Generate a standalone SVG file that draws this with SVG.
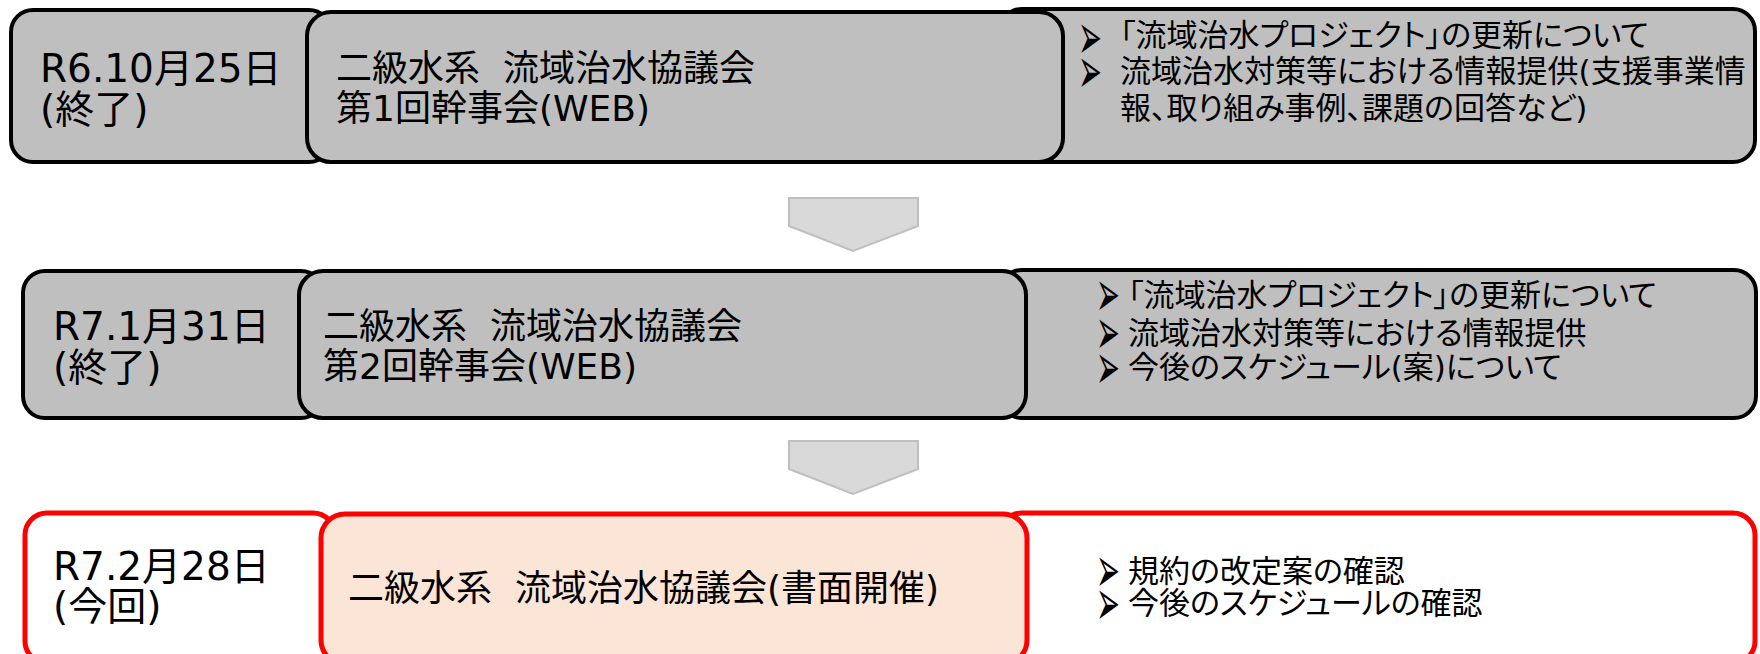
<svg xmlns="http://www.w3.org/2000/svg" width="1760" height="654" viewBox="0 0 1760 654">
<style>
.g{fill:#BFBFBF;stroke:#000;stroke-width:4}
.r{fill:#FFFFFF;stroke:#FF0000;stroke-width:5}
.p{fill:#FBE5D6;stroke:#FF0000;stroke-width:5}
.t{font-family:"DejaVu Sans","Noto Sans CJK JP",sans-serif;fill:#000}
.big{font-size:39px}
.mid{font-size:36px}
.sm{font-size:31px;font-feature-settings:"palt"}
.b{font-family:"DejaVu Sans",sans-serif;font-size:38px;fill:#000}
.arr{fill:#D9D9D9;stroke:#BFBFBF;stroke-width:2}
</style>
<rect width="1760" height="654" fill="#FFFFFF"/>
<g id="connectors">
<polygon class="arr" points="789,198 918,198 918,226 853,251 789,226"/>
<polygon class="arr" points="789,441 918,441 918,469 853,494 789,469"/>
</g>
<g id="row1">
<g id="row1-right">
<rect class="g" x="1000" y="9" width="755" height="153" rx="22"/>
<text class="b" transform="translate(1078,59) scale(0.75,1.7)">➢</text>
<text class="b" transform="translate(1078,93) scale(0.75,1.7)">➢</text>
<text class="t sm" x="1120" y="46">「流域治水プロジェクト」の更新について</text>
<text class="t sm" x="1120" y="82">流域治水対策等における情報提供(支援事業情</text>
<text class="t sm" x="1120" y="119">報、取り組み事例、課題の回答など)</text>
</g>
<g id="row1-date">
<rect class="g" x="11" y="10" width="320" height="152" rx="22"/>
<text class="t big" x="40" y="82">R6.10月25日</text>
<text class="t big" x="40" y="123">(終了)</text>
</g>
<g id="row1-meeting">
<rect class="g" x="307" y="12" width="756" height="150" rx="24"/>
<text class="t mid" x="336" y="81">二級水系 <tspan x="503">流域治水協議会</tspan></text>
<text class="t mid" x="336" y="121">第1回幹事会(WEB)</text>
</g>
</g>
<g id="row2">
<g id="row2-right">
<rect class="g" x="1000" y="270" width="756" height="148" rx="22"/>
<text class="b" transform="translate(1096,316) scale(0.75,1.7)">➢</text>
<text class="b" transform="translate(1096,354) scale(0.75,1.7)">➢</text>
<text class="b" transform="translate(1096,389) scale(0.75,1.7)">➢</text>
<text class="t sm" x="1128" y="306">「流域治水プロジェクト」の更新について</text>
<text class="t sm" x="1128" y="344">流域治水対策等における情報提供</text>
<text class="t sm" x="1128" y="378">今後のスケジュール(案)について</text>
</g>
<g id="row2-date">
<rect class="g" x="23" y="271" width="300" height="147" rx="22"/>
<text class="t big" x="53" y="340">R7.1月31日</text>
<text class="t big" x="53" y="381">(終了)</text>
</g>
<g id="row2-meeting">
<rect class="g" x="299" y="271" width="727" height="147" rx="24"/>
<text class="t mid" x="323" y="339">二級水系 <tspan x="490">流域治水協議会</tspan></text>
<text class="t mid" x="323" y="379">第2回幹事会(WEB)</text>
</g>
</g>
<g id="row3">
<g id="row3-right">
<rect class="r" x="1000" y="513" width="755" height="150" rx="22"/>
<text class="b" transform="translate(1096,592) scale(0.75,1.7)">➢</text>
<text class="b" transform="translate(1096,625) scale(0.75,1.7)">➢</text>
<text class="t sm" x="1128" y="582">規約の改定案の確認</text>
<text class="t sm" x="1128" y="614">今後のスケジュールの確認</text>
</g>
<g id="row3-date">
<rect class="r" x="25" y="513" width="310" height="150" rx="22"/>
<text class="t big" x="53" y="580">R7.2月28日</text>
<text class="t big" x="53" y="620">(今回)</text>
</g>
<g id="row3-meeting">
<rect class="p" x="321" y="514" width="706" height="150" rx="24"/>
<text class="t mid" x="348" y="601">二級水系 <tspan x="515">流域治水協議会(書面開催)</tspan></text>
</g>
</g>
</svg>
